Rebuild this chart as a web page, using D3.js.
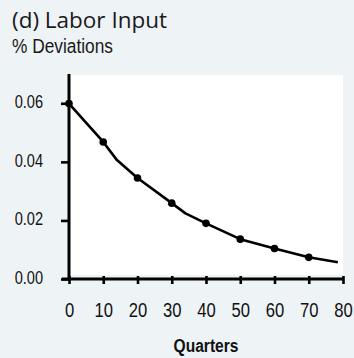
<!DOCTYPE html>
<html>
<head>
<meta charset="utf-8">
<script src="https://cdn.jsdelivr.net/npm/d3@7"></script>
<style>
  html, body { margin: 0; padding: 0; background: #eef3f6; }
  svg { display: block; }
  .title { font-family: "Open Sans", sans-serif; font-size: 21px; fill: #1a1a1a; }
  .subtitle { font-family: "Liberation Sans", sans-serif; font-size: 19.5px; fill: #1a1a1a; }
  .ytick text { font-family: "Liberation Sans", sans-serif; font-size: 18px; fill: #111; }
  .xtick text { font-family: "Liberation Sans", sans-serif; font-size: 20.5px; fill: #111; }
  .xlabel { font-family: "Liberation Sans", sans-serif; font-size: 19px; font-weight: bold; fill: #111; }
</style>
</head>
<body>
<svg id="chart" width="354" height="358"></svg>
<script>
// Labor input response, % deviation from steady state, by quarter
const markerQuarters = [0, 10, 20, 30, 40, 50, 60, 70];
const markerValues   = [0.0599, 0.0468, 0.0345, 0.0259, 0.0190, 0.0136, 0.0104, 0.0074];

// Path of the response (includes points between the markers)
const lineQuarters = [0, 10, 14, 20, 30, 34, 40, 50, 60, 70, 78.5];
const lineValues   = [0.0599, 0.0468, 0.0406, 0.0345, 0.0259, 0.0224, 0.0190, 0.0136, 0.0104, 0.0074, 0.0057];

const yTicks = [0, 0.02, 0.04, 0.06];
const xTicks = [0, 10, 20, 30, 40, 50, 60, 70, 80];

const svg = d3.select("#chart");

const x = d3.scaleLinear().domain([0, 80]).range([69, 343]);
const y = d3.scaleLinear().domain([0, 0.07]).range([279, 74]);

const NARROW = 0.81; // horizontal squeeze for the narrow label face

// Title block
svg.append("text").attr("class", "title").attr("x", 12).attr("y", 28)
  .attr("textLength", 155).attr("lengthAdjust", "spacingAndGlyphs")
  .text("(d) Labor Input");
svg.append("text").attr("class", "subtitle").attr("x", 12).attr("y", 53)
  .attr("textLength", 101).attr("lengthAdjust", "spacingAndGlyphs")
  .text("% Deviations");

// White plotting panel
svg.append("rect")
  .attr("x", x(0)).attr("y", y(0.07) + 1)
  .attr("width", x(80) - x(0)).attr("height", y(0) - 4 - y(0.07) - 1)
  .attr("fill", "#ffffff");

// Response path
const line = d3.line().x(d => x(d[0])).y(d => y(d[1]));
svg.append("path")
  .datum(d3.zip(lineQuarters, lineValues))
  .attr("d", line)
  .attr("fill", "none")
  .attr("stroke", "#000")
  .attr("stroke-width", 2.6)
  .attr("stroke-linejoin", "round");

svg.selectAll("circle.pt")
  .data(d3.zip(markerQuarters, markerValues))
  .join("circle")
  .attr("class", "pt")
  .attr("cx", d => x(d[0]))
  .attr("cy", d => y(d[1]))
  .attr("r", 3.8)
  .attr("fill", "#000");

// Y axis
const yAxis = svg.append("g")
  .attr("class", "ytick")
  .attr("transform", `translate(${x(0)},0)`)
  .call(d3.axisLeft(y).tickValues(yTicks).tickFormat(d3.format(".2f")).tickSize(8).tickSizeOuter(0));
yAxis.select(".domain").remove();
yAxis.selectAll(".tick line").attr("stroke", "#000").attr("stroke-width", 2.6);
yAxis.selectAll(".tick text")
  .attr("x", -26 / NARROW).attr("dy", "0.25em").attr("fill", "#111")
  .attr("transform", `scale(${NARROW},1)`);
svg.append("line")
  .attr("x1", x(0)).attr("x2", x(0))
  .attr("y1", y(0.07)).attr("y2", y(0) + 1.5)
  .attr("stroke", "#000").attr("stroke-width", 3);

// X axis
const xAxis = svg.append("g")
  .attr("class", "xtick")
  .attr("transform", `translate(0,${y(0)})`)
  .call(d3.axisBottom(x).tickValues(xTicks).tickFormat(d3.format("d")).tickSize(5).tickSizeOuter(0));
xAxis.select(".domain").remove();
xAxis.selectAll(".tick line").attr("y1", -3).attr("y2", 5).attr("stroke", "#000").attr("stroke-width", 2.6);
xAxis.selectAll(".tick text")
  .attr("y", 38).attr("dy", null).attr("fill", "#111")
  .attr("transform", `scale(${NARROW},1)`);
svg.append("line")
  .attr("x1", x(0) - 7).attr("x2", x(80) + 1)
  .attr("y1", y(0)).attr("y2", y(0))
  .attr("stroke", "#000").attr("stroke-width", 3);

svg.append("text").attr("class", "xlabel")
  .attr("x", (x(0) + x(80)) / 2 / 0.82).attr("y", 352)
  .attr("text-anchor", "middle")
  .attr("transform", "scale(0.82,1)")
  .text("Quarters");
</script>
</body>
</html>
